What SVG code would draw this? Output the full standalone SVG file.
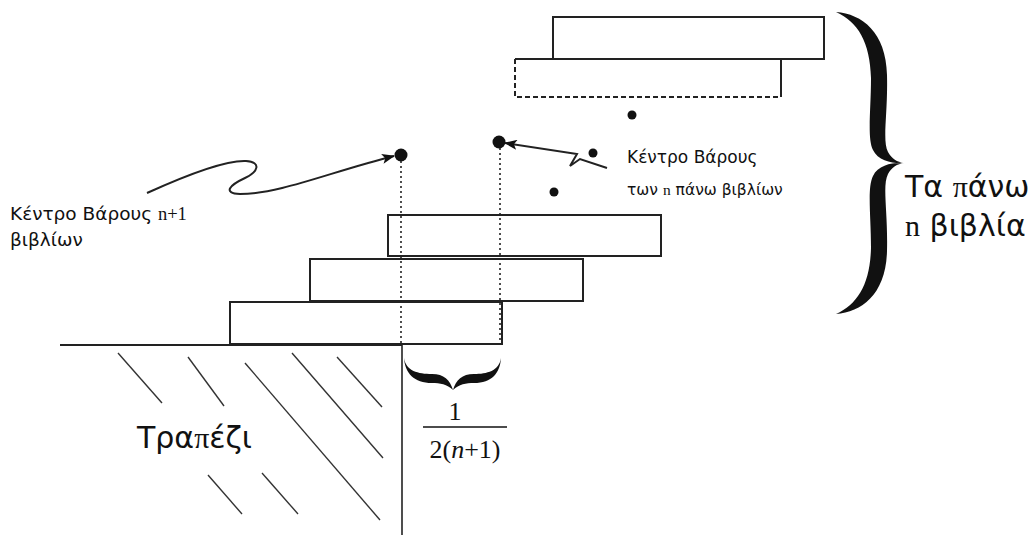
<svg xmlns="http://www.w3.org/2000/svg" width="1035" height="535" viewBox="0 0 1035 535">
<defs>
<style>
.book{fill:#fff;stroke:#222;stroke-width:2}
.dot{fill:#111}
.guide{stroke:#222;stroke-width:1.6;stroke-dasharray:2 3;fill:none}
.hatch{stroke:#333;stroke-width:1.4}
.sans{font-family:"DejaVu Sans","Liberation Sans",sans-serif;fill:#111}
.serif{font-family:"Liberation Serif","DejaVu Serif",serif}
.arrow{fill:none;stroke:#222;stroke-width:2;marker-end:url(#ah)}
.brace{fill:#111}
</style>
<marker id="ah" markerUnits="userSpaceOnUse" markerWidth="14" markerHeight="10" refX="12" refY="5" orient="auto">
<path d="M0,0 L13,5 L0,10 L3,5 Z" fill="#111"/>
</marker>
</defs>
<rect width="1035" height="535" fill="#fff"/>

<g id="table">
<line x1="60" y1="345" x2="402" y2="345" stroke="#222" stroke-width="2"/>
<line x1="402" y1="345" x2="402" y2="535" stroke="#222" stroke-width="1.6"/>
<line class="hatch" x1="118" y1="353" x2="162" y2="403"/>
<line class="hatch" x1="188" y1="357" x2="224" y2="406"/>
<line class="hatch" x1="245" y1="363" x2="380" y2="520"/>
<line class="hatch" x1="292" y1="353" x2="383" y2="458"/>
<line class="hatch" x1="337" y1="357" x2="382" y2="407"/>
<line class="hatch" x1="208" y1="475" x2="242" y2="514"/>
<line class="hatch" x1="262" y1="473" x2="298" y2="514"/>
<text class="sans" x="137" y="448" font-size="30">Τρα<tspan class="serif">π</tspan>έζι</text>
</g>

<g id="book1"><rect class="book" x="230" y="302" width="272" height="42"/></g>
<g id="book2"><rect class="book" x="310" y="259" width="273" height="42"/></g>
<g id="book3"><rect class="book" x="388" y="215" width="273" height="41"/></g>
<g id="book-dashed">
<path d="M515,59 L781,59 L781,97" fill="none" stroke="#222" stroke-width="2"/>
<path d="M515,59 L515,97 L781,97" fill="none" stroke="#222" stroke-width="2" stroke-dasharray="5 3"/>
</g>
<g id="book-top"><rect class="book" x="553" y="17" width="271" height="42"/></g>

<g id="centers">
<circle class="dot" cx="401" cy="155" r="6.5"/>
<circle class="dot" cx="499" cy="142" r="6.5"/>
<circle class="dot" cx="632" cy="115" r="4.5"/>
<circle class="dot" cx="593" cy="153" r="4.5"/>
<circle class="dot" cx="554" cy="192" r="4.5"/>
</g>

<g id="connectors">
<line class="guide" x1="401" y1="161" x2="401" y2="345"/>
<line class="guide" x1="500" y1="148" x2="500" y2="344"/>
<path class="arrow" d="M147,193 C180,178 225,160 246,161 C262,162 258,172 245,178 C230,185 222,193 240,194 C280,194 330,172 394,156"/>
<path class="arrow" d="M607,168 L580,159 L570,166 L577,154 L505,143"/>
</g>

<g id="brace-big">
<path class="brace" d="M836,12 C862,14 886,32 887,75 C888,115 882,140 888,152 C892,159 897,162 904,163 C894,164 878,161 873,150 C867,138 871,110 871,78 C870,42 858,22 836,12 Z M836,314 C862,312 886,294 887,251 C888,211 882,186 888,174 C892,167 897,164 904,163 C894,162 878,165 873,176 C867,188 871,216 871,248 C870,284 858,304 836,314 Z"/>
</g>
<g id="label-top">
<text class="sans" x="905" y="197" font-size="30">Τα <tspan class="serif">π</tspan>άνω</text>
<text class="sans" x="905" y="236" font-size="30"><tspan class="serif">n</tspan> βιβλία</text>
</g>

<g id="label-left">
<text class="sans" x="10" y="220" font-size="18.5">Κέντρο Βάρους <tspan class="serif">n+1</tspan></text>
<text class="sans" x="10" y="246" font-size="18.5">βιβλίων</text>
</g>
<g id="label-right">
<text class="sans" x="627" y="163" font-size="17">Κέντρο Βάρους</text>
<text class="sans" x="627" y="195" font-size="15.5">των <tspan class="serif">n</tspan> πάνω βιβλίων</text>
</g>

<g id="brace-small">
<path class="brace" d="M404,358 C406,371 418,374 432,374 C444,374 450,380 453,390 C447,384 440,383 432,383 C414,383 405,373 404,358 Z M501,358 C499,371 487,374 474,374 C462,374 456,380 453,390 C459,384 466,383 474,383 C492,383 500,373 501,358 Z"/>
</g>
<g id="fraction">
<text class="serif" x="455" y="420" font-size="26" text-anchor="middle" fill="#111">1</text>
<line x1="423" y1="427" x2="507" y2="427" stroke="#111" stroke-width="1.4"/>
<text class="serif" x="465" y="458" font-size="26" text-anchor="middle" fill="#111">2(<tspan font-style="italic">n</tspan>+1)</text>
</g>
</svg>
